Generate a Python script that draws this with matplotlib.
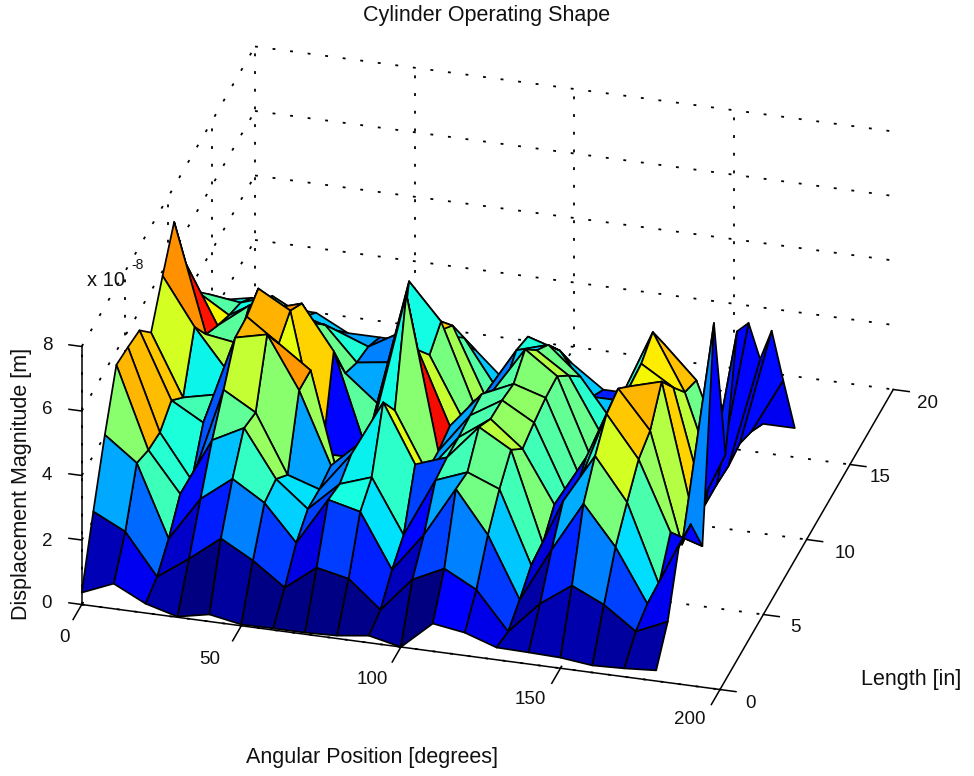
import numpy as np
import matplotlib
matplotlib.use('Agg')
import matplotlib.pyplot as plt

plt.rcParams['font.family'] = ['Liberation Sans', 'DejaVu Sans']

angle = np.arange(0, 190, 10)
length = np.arange(13) * 4 / 3

# displacement, one row per length step, in units of 1e-8 m
z_0 = [.37, .78, .29, .02, .22, .04, .05, .05, .09, .22, .00, .86, .71, .38, .36, .33, .22, .26, .33]
z_1 = [2.26, 1.77, .50, 1.19, 1.95, 1.40, .69, 1.44, 1.23, .40, 1.47, 1.94, 1.42, .25, 1.25, 1.94, 1.48, .78, 1.22]
z_2 = [4.02, 3.28, 1.06, 2.43, 3.18, 2.57, 1.46, 2.93, 2.69, 1.02, 2.24, 3.79, 2.50, .62, 2.30, 3.86, 2.65, 1.02, 3.00]
z_3 = [5.57, 3.06, 1.83, 3.63, 4.14, 2.69, 1.89, 2.80, 3.14, 1.48, 3.31, 3.69, 3.30, 1.07, 3.19, 4.72, 3.42, 1.01, 3.00]
z_4 = [5.50, 2.99, 1.63, 4.57, 4.00, 2.20, 1.88, 3.10, 4.84, 3.05, 3.40, 4.47, 3.90, 1.13, 2.80, 5.40, 4.13, 2.00, 1.70]
z_5 = [5.40, 3.36, 2.80, 5.57, 5.80, 4.20, 2.00, 2.90, 3.97, 2.20, 3.40, 4.10, 3.31, 1.71, 3.30, 5.57, 4.40, 1.00, 8.00]
z_6 = [4.71, 2.83, 3.05, 5.60, 4.90, 4.20, .50, 2.90, 6.95, 2.22, 3.46, 4.06, 3.50, 1.50, 3.00, 5.02, 5.30, 1.20, 3.30]
z_7 = [5.85, 4.40, 3.20, 5.85, 5.30, 1.00, 1.00, 2.90, 4.60, 2.38, 3.50, 3.95, 3.65, 1.50, 3.00, 5.10, 4.50, 1.00, 6.50]
z_8 = [6.90, 3.55, 3.40, 4.60, 4.90, 3.55, .70, 2.90, 3.83, 2.06, 3.00, 4.40, 3.70, 1.45, 3.30, 5.46, 3.73, 1.00, 6.14]
z_9 = [5.00, 3.20, 3.96, 3.50, 3.70, 2.25, 1.45, 5.36, 4.25, 1.90, 2.56, 3.75, 3.10, 1.45, 3.30, 4.46, 3.48, .94, 4.40]
z_10 = [3.50, 2.90, 3.50, 3.00, 3.00, 1.96, 2.10, 3.00, 3.50, 1.50, 3.00, 3.30, 2.45, 1.20, 1.50, 2.00, 1.50, 1.03, 4.66]
z_11 = [2.80, 2.67, 3.00, 2.50, 2.20, 1.83, 2.40, 2.50, 2.50, 1.10, 2.80, 2.50, 1.20, 1.20, 1.00, 1.20, 1.20, .78, 2.50]
z_12 = [2.00, 2.20, 2.00, 2.00, 1.50, 1.50, 1.50, 1.80, 1.50, .60, 2.00, 1.50, .80, .80, .80, .80, .80, .40, .40]

x_ticks = [0, 50, 100, 150, 200]
y_ticks = [0, 5, 10, 15, 20]
z_ticks = [0, 2, 4, 6, 8]

W, H = 974, 776
S = 944


def put(x, y, s, **kw):
    kw.setdefault('fontsize', 13.5)
    kw.setdefault('color', '#111111')
    fig.text(x / W, 1 - y / H, s, ha='center', va='center', **kw)


Z = np.array([z_0, z_1, z_2, z_3, z_4, z_5, z_6, z_7, z_8, z_9, z_10, z_11, z_12])
X, Y = np.meshgrid(angle, length)

fig = plt.figure(figsize=(W / 100, H / 100), dpi=100)
ax = fig.add_axes([2.75 / W, -76.75 / H, S / W, S / H], projection='3d', proj_type='ortho')
ax.view_init(elev=28.7, azim=-74.5)
ax.set_box_aspect((662, 648, 294))
ax.set_xlim(0, 200)
ax.set_ylim(0, 20)
ax.set_zlim(0, 8)
ax.set_axis_off()
ax.computed_zorder = False

# dotted grid on the floor and the two back walls
dots = dict(color='black', lw=1.3, ls=(0, (1.6, 8.2)), zorder=1)
for x in x_ticks[:-1]:
    ax.plot([x, x], [0, 20], [0, 0], **dots)
    ax.plot([x, x], [20, 20], [0, 8], **dots)
for y in y_ticks[:-1]:
    ax.plot([0, 200], [y, y], [0, 0], **dots)
    ax.plot([0, 0], [y, y], [0, 8], **dots)
ax.plot([0, 200], [20, 20], [0, 0], **dots)
ax.plot([0, 0], [0, 20], [0, 0], **dots)
for z in z_ticks[1:]:
    ax.plot([0, 200], [20, 20], [z, z], **dots)
    ax.plot([0, 0], [0, 20], [z, z], **dots)

# solid axes with outward ticks
solid = dict(color='black', lw=1.1, zorder=2)
ax.plot([0, 200], [0, 0], [0, 0], **solid)
ax.plot([200, 200], [0, 20], [0, 0], **solid)
ax.plot([0, 0], [0, 0], [0, 8], **solid)
for x in x_ticks:
    ax.plot([x, x], [0, -1], [0, 0], **solid)
for y in y_ticks:
    ax.plot([200, 205], [y, y], [0, 0], **solid)
for z in z_ticks:
    ax.plot([0, -4], [0, 0], [z, z], **solid)

colors = plt.cm.jet(plt.Normalize(0, 7.75)(Z))
ax.plot_surface(X, Y, Z, rstride=1, cstride=1, facecolors=colors, shade=False,
                edgecolor='black', linewidth=1.25, zorder=3)

put(487, 15, 'Cylinder Operating Shape', fontsize=15.5)
put(372, 758, 'Angular Position [degrees]', fontsize=15.5)
put(911, 679, 'Length [in]', fontsize=15.5)
put(22, 484, 'Displacement Magnitude [m]', fontsize=15.5, rotation=90)
put(106, 280, 'x 10', fontsize=14.5)
put(138, 265, '-8', fontsize=10)

for lab, px, py in zip(x_ticks, [65, 210, 372, 530, 690], [638, 660, 679, 700, 720]):
    put(px, py, str(lab))
for lab, px, py in zip(y_ticks, [751, 795, 845, 880, 928], [703, 628, 553, 478, 403]):
    put(px, py, str(lab))
for lab, py in zip(z_ticks, [603, 541, 475, 410, 345]):
    put(47, py, str(lab))

fig.savefig('out.png', dpi=100)
